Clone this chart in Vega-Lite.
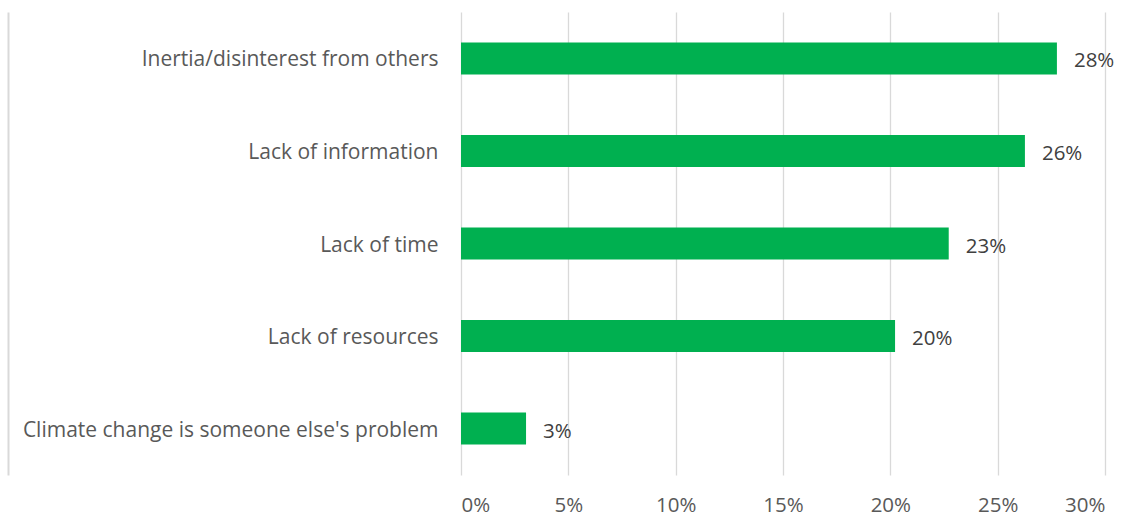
{
  "$schema": "https://vega.github.io/schema/vega-lite/v6.json",
  "width": 644,
  "height": 463,
  "autosize": {"type": "none"},
  "padding": {"left": 461, "top": 12, "right": 28, "bottom": 41},
  "background": "white",
  "config": {
    "view": {"stroke": null},
    "font": "Open Sans",
    "axis": {"labelFont": "Open Sans", "labelColor": "#595959", "labelFontSize": 20.5}
  },
  "data": {
    "values": [
      {"reason": "Inertia/disinterest from others", "share": 0.2776},
      {"reason": "Lack of information", "share": 0.2627},
      {"reason": "Lack of time", "share": 0.2272},
      {"reason": "Lack of resources", "share": 0.2022},
      {"reason": "Climate change is someone else's problem", "share": 0.0303}
    ]
  },
  "encoding": {
    "x": {
      "field": "share",
      "type": "quantitative",
      "scale": {"domain": [0, 0.3], "nice": false},
      "axis": {
        "title": null,
        "format": ".0%",
        "values": [0, 0.05, 0.1, 0.15, 0.2, 0.25, 0.3],
        "ticks": false,
        "domain": false,
        "grid": true,
        "gridColor": "#d9d9d9",
        "gridWidth": 1.3,
        "labelPadding": 20,
        "labelFontSize": 20.5
      }
    }
  },
  "layer": [
    {
      "mark": {"type": "bar", "color": "#00B050"},
      "encoding": {
        "y": {
          "field": "reason",
          "type": "nominal",
          "sort": null,
          "scale": {"paddingInner": 0.655, "paddingOuter": 0.33},
          "axis": {"title": null, "orient": "left", "ticks": false, "domain": false, "labelPadding": 23, "labelLimit": 460, "labelFontSize": 21, "labelOffset": 2}
        }
      }
    },
    {
      "mark": {"type": "text", "align": "left", "baseline": "middle", "dx": 17, "dy": 3, "fontSize": 20.5, "font": "Open Sans", "color": "#404040"},
      "encoding": {
        "y": {"field": "reason", "type": "nominal", "sort": null, "axis": null},
        "text": {"field": "share", "type": "quantitative", "format": ".0%"}
      }
    },
    {
      "mark": {"type": "bar", "opacity": 0},
      "encoding": {
        "y": {
          "field": "reason",
          "type": "nominal",
          "sort": null,
          "axis": {"title": null, "orient": "left", "offset": 453, "labels": false, "ticks": false, "grid": false, "domain": true, "domainColor": "#d9d9d9", "domainWidth": 2}
        }
      }
    }
  ],
  "resolve": {"axis": {"y": "independent"}}
}
